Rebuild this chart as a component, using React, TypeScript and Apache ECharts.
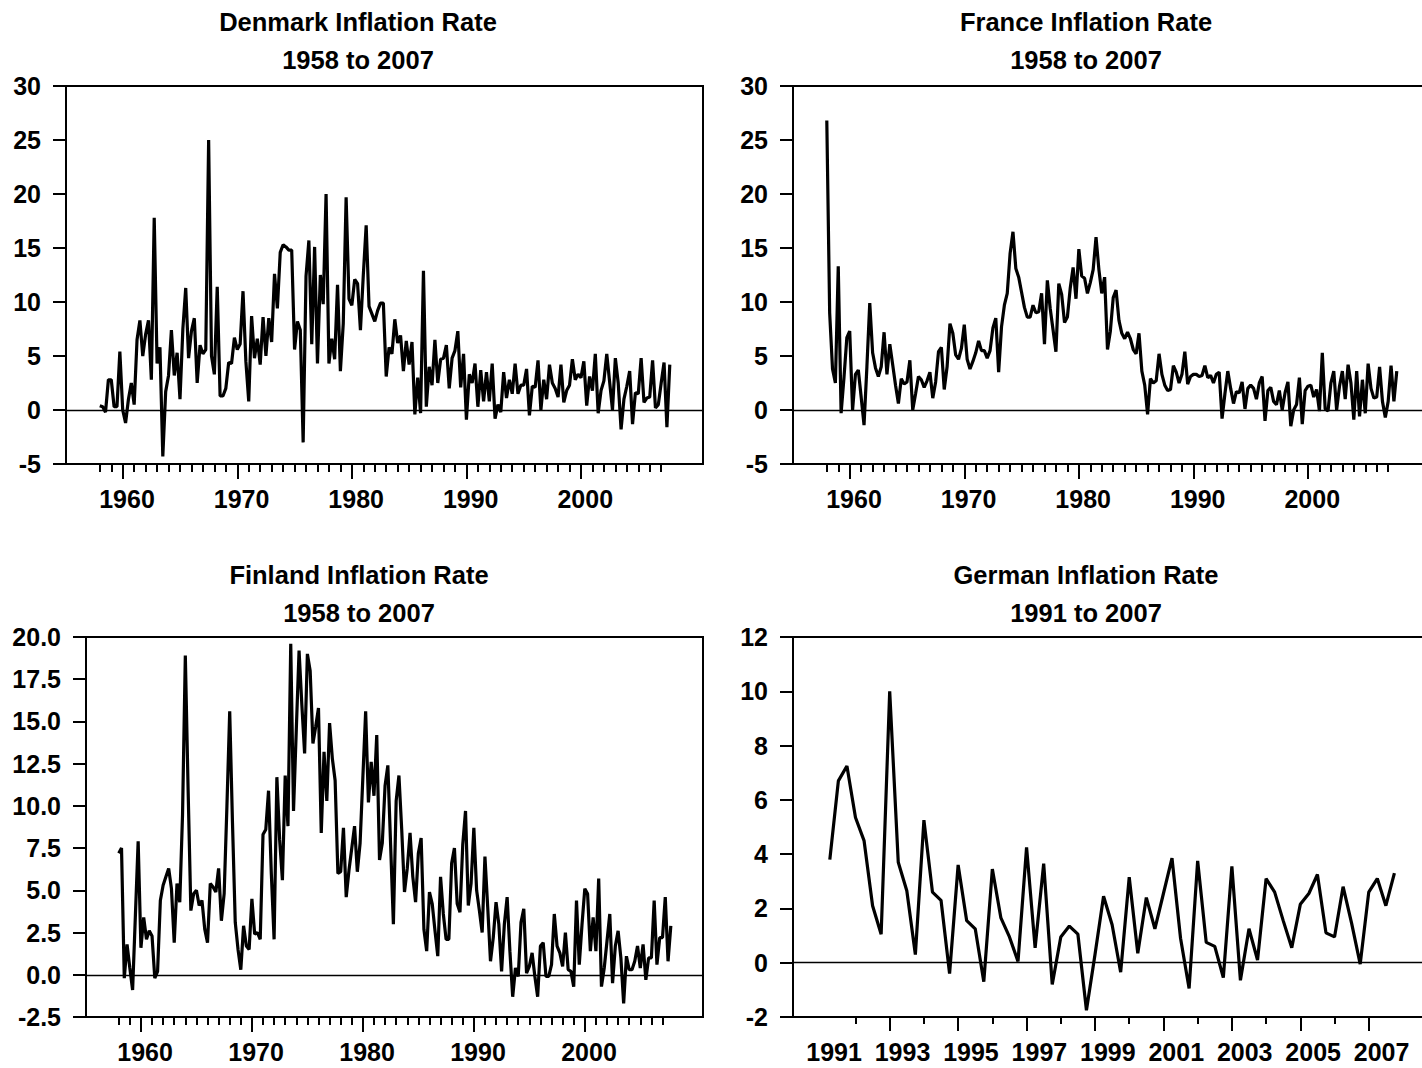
import React, { useEffect, useRef } from "react";
import * as echarts from "echarts";

const FONT = '"Liberation Sans", Arial, Helvetica, sans-serif';

// Quarterly inflation rates (percent), 1958Q1 .. 2007Q4
const denmarkRates = [
  0.4, 0.3, -0.2, 2.8, 2.8, 0.3, 0.3, 5.4, 0, -1.2,
  1, 2.5, 0.5, 6.5, 8.3, 5, 7, 8.3, 2.8, 17.8,
  4.3, 5.8, -4.3, 1.7, 3.2, 7.4, 3.2, 5.3, 1, 7.5,
  11.3, 4.8, 7.3, 8.5, 2.5, 6, 5.2, 5.6, 25, 5,
  3.3, 11.4, 1.3, 1.3, 2, 4.4, 4.3, 6.7, 5.6, 6.1,
  11, 4.5, 0.8, 8.7, 4.8, 6.6, 4.2, 8.6, 5, 8.5,
  6.3, 12.6, 9.4, 14.6, 15.3, 15.1, 14.8, 14.8, 5.6, 8.2,
  7.4, -3, 12.4, 15.7, 6.1, 15.1, 4.3, 12.5, 9.8, 20,
  4.3, 6.6, 4.7, 11.6, 3.6, 8, 19.7, 10.3, 9.7, 12.1,
  11.7, 7.4, 12.5, 17.1, 9.6, 8.9, 8.2, 9.2, 9.9, 9.9,
  3.1, 5.8, 5.2, 8.4, 6.2, 6.9, 3.6, 6.4, 4.2, 6.3,
  -0.4, 3, -0.3, 12.9, 0.3, 4, 2.3, 6.5, 2.5, 4.7,
  4.8, 6, 2, 4.8, 5.5, 7.3, 2.1, 5.2, -0.9, 3.3,
  2.5, 4.3, 0.3, 3.7, 0.8, 3.5, 0.8, 4.3, -0.8, 0.5,
  -0.2, 3.5, 1.1, 2.8, 1.5, 4.3, 1.5, 2.3, 2.3, 3.8,
  -0.5, 2.2, 2.1, 4.6, 0, 2.8, 1, 4.2, 2.5, 2,
  1.2, 4.2, 0.7, 1.8, 2.3, 4.7, 2.8, 3.3, 3, 4.5,
  0.4, 3.1, 1.8, 5.2, -0.3, 1.8, 2.7, 5.2, 2.6, 0,
  4.8, 2.5, -1.8, 1, 2.2, 3.6, -1.3, 1.6, 1.5, 4.8,
  0.7, 1.1, 1.2, 4.6, 0.2, 0.5, 2.5, 4.4, -1.6, 4.2,
];

const franceRates = [
  26.8, 9, 3.8, 2.5, 13.3, -0.3, 3, 6.7, 7.3, 0,
  3.3, 3.7, 1.2, -1.4, 4, 9.9, 5.3, 3.9, 3.1, 4,
  7.2, 3.3, 6.1, 4.2, 2.3, 0.6, 2.9, 2.4, 2.6, 4.6,
  0, 1.5, 3.1, 2.8, 2.1, 2.7, 3.5, 1.1, 2.6, 5.4,
  5.8, 1.9, 4, 8, 7.1, 5.1, 4.7, 5.7, 7.9, 4.7,
  3.8, 4.5, 5.3, 6.4, 5.5, 5.5, 4.8, 5.5, 7.6, 8.5,
  3.5, 7.7, 9.7, 10.8, 14.5, 16.5, 13.1, 12.3, 10.9, 9.5,
  8.6, 8.6, 9.7, 9, 9.1, 10.8, 6.1, 12, 9.4, 7.4,
  5.4, 11.7, 10.7, 8.1, 8.6, 11.3, 13.2, 10.3, 14.9, 12.4,
  12.2, 10.8, 11.8, 13, 16, 13, 10.8, 12.3, 5.6, 7.3,
  10.4, 11.1, 8.3, 7.1, 6.6, 7.2, 6.6, 5.6, 5.2, 7.1,
  3.6, 2.3, -0.4, 2.9, 2.5, 2.7, 5.2, 3.3, 2.3, 1.8,
  1.9, 4.1, 3.5, 2.5, 3.3, 5.4, 2.4, 3.1, 3.3, 3.3,
  3.1, 3.2, 4.1, 3, 3.2, 2.5, 3.3, 3.5, -0.8, 1.5,
  3.6, 2, 0.6, 1.7, 1.6, 2.6, 0.1, 2, 2.3, 2,
  1, 2.5, 3.1, -1, 1.8, 2.1, 0.8, 0.5, 1.8, 0,
  1.6, 2.6, -1.5, 0, 0.5, 3, -1.3, 1.8, 2.2, 2.3,
  1.2, 1.9, -0.1, 5.3, 0.1, -0.1, 2.5, 3.6, 0, 2.2,
  3.6, 1, 4.2, 2.5, -0.9, 3.6, -0.6, 2.8, -0.3, 4.3,
  2, 1.1, 1.2, 4, 0.8, -0.7, 0.8, 4.1, 0.8, 3.6,
];

const finlandRates = [
  7.2, 7.5, -0.2, 1.8, 0.4, -0.9, 3.5, 7.9, 1.6, 3.4,
  2.1, 2.6, 2.3, -0.2, 0.2, 4.4, 5.3, 5.8, 6.3, 5.1,
  1.9, 5.4, 4.3, 9.5, 18.9, 11, 3.8, 4.8, 5, 4.1,
  4.4, 2.7, 1.9, 5.4, 5.2, 4.9, 6.3, 3.2, 4.8, 10,
  15.6, 9, 3.1, 1.5, 0.3, 2.9, 1.7, 1.5, 4.5, 2.4,
  2.5, 2.1, 8.3, 8.6, 10.9, 6, 2.1, 11.7, 8, 5.6,
  11.8, 8.8, 19.6, 9.7, 14.5, 19.2, 16, 13.1, 19, 18,
  13.7, 14.7, 15.8, 8.4, 13.2, 10.3, 14.9, 12.8, 11.5, 6,
  6.1, 8.7, 4.6, 6.2, 7.5, 8.8, 6.1, 7.8, 11.7, 15.6,
  10.2, 12.6, 10.6, 14.2, 6.8, 7.8, 11.2, 12.4, 7.7, 3,
  10.3, 11.8, 8.6, 4.9, 6.3, 8.4, 5.8, 4.3, 7.2, 8.1,
  2.7, 1.4, 4.9, 4.2, 2.6, 1.1, 5.8, 3.6, 2.1, 2.1,
  6.6, 7.5, 4.2, 3.7, 7.7, 9.7, 4.1, 5.4, 8.7, 5,
  3.8, 2.5, 7, 4, 0.8, 2.2, 4.3, 3, 0.2, 3,
  4.6, 1.4, -1.3, 0.4, -0.1, 3.1, 3.9, 0.1, 0.5, 1.3,
  -0.1, -1.3, 1.7, 1.9, -0.1, -0.1, 0.6, 3.6, 1.7, 1.3,
  0.5, 2.5, 0.3, 0.2, -0.7, 4.4, 0.6, 3, 5.1, 4.8,
  1.4, 3.4, 1.4, 5.7, -0.7, 0.4, 2, 3.6, -0.5, 1.7,
  2.6, 1, -1.7, 1.1, 0.3, 0.3, 0.8, 1.7, 0.4, 1.8,
  -0.3, 1, 1, 4.4, 0.6, 2.2, 2.2, 4.6, 0.8, 2.9,
];

// Quarterly inflation rates (percent), 1991Q2 .. 2007Q4
const germanRates = [
  3.8, 6.7, 7.25, 5.35, 4.5, 2.1, 1.05, 10, 3.7, 2.65,
  0.3, 5.25, 2.6, 2.3, -0.4, 3.6, 1.55, 1.25, -0.7, 3.45,
  1.65, 0.95, 0.05, 4.25, 0.55, 3.65, -0.8, 0.95, 1.35, 1.05,
  -1.75, 0.3, 2.45, 1.4, -0.35, 3.15, 0.35, 2.4, 1.25, 2.55,
  3.85, 0.9, -0.95, 3.75, 0.75, 0.6, -0.55, 3.55, -0.65, 1.25,
  0.1, 3.1, 2.6, 1.55, 0.55, 2.15, 2.55, 3.25, 1.1, 0.95,
  2.8, 1.45, -0.05, 2.6, 3.1, 2.1, 3.3,
];

const longSampleStart = 1958; // first quarter of 1958
const germanSampleStart = 1991.25; // second quarter of 1991

// Axis tick and label years
const decadeLabels = [1960, 1970, 1980, 1990, 2000];
const yearTicks = Array.from({ length: 50 }, (_, k) => 1958 + k);
const germanLabels = [1991, 1993, 1995, 1997, 1999, 2001, 2003, 2005, 2007];
const germanLongTicks = [1993, 1995, 1997, 1999, 2001, 2003, 2005, 2007];
const germanShortTicks = [1992, 1994, 1996, 1998, 2000, 2002, 2004, 2006];

type Panel = {
  title: string;
  subtitle: string;
  titleX: number;
  titleTop: number;
  grid: { left: number; top: number; width: number; height: number };
  xMin: number;
  xMax: number;
  labels: number[];
  longTicks: number[];
  shortTicks: number[];
  longLen: number;
  shortLen: number;
  yMin: number;
  yMax: number;
  yStep: number;
  yDecimals: number;
  start: number;
  values: number[];
};

const panels: Panel[] = [
  {
    title: "Denmark Inflation Rate",
    subtitle: "1958 to 2007",
    titleX: 358,
    titleTop: 8,
    grid: { left: 66, top: 86, width: 637, height: 378 },
    xMin: 1955.05,
    xMax: 2010.65,
    labels: decadeLabels,
    longTicks: decadeLabels,
    shortTicks: yearTicks,
    longLen: 15,
    shortLen: 8,
    yMin: -5,
    yMax: 30,
    yStep: 5,
    yDecimals: 0,
    start: longSampleStart,
    values: denmarkRates,
  },
  {
    title: "France Inflation Rate",
    subtitle: "1958 to 2007",
    titleX: 1086,
    titleTop: 8,
    grid: { left: 793, top: 86, width: 637, height: 378 },
    xMin: 1955.05,
    xMax: 2010.65,
    labels: decadeLabels,
    longTicks: decadeLabels,
    shortTicks: yearTicks,
    longLen: 15,
    shortLen: 8,
    yMin: -5,
    yMax: 30,
    yStep: 5,
    yDecimals: 0,
    start: longSampleStart,
    values: franceRates,
  },
  {
    title: "Finland Inflation Rate",
    subtitle: "1958 to 2007",
    titleX: 359,
    titleTop: 561,
    grid: { left: 86, top: 637, width: 617, height: 380 },
    xMin: 1955.05,
    xMax: 2010.65,
    labels: decadeLabels,
    longTicks: decadeLabels,
    shortTicks: yearTicks,
    longLen: 15,
    shortLen: 8,
    yMin: -2.5,
    yMax: 20,
    yStep: 2.5,
    yDecimals: 1,
    start: longSampleStart,
    values: finlandRates,
  },
  {
    title: "German Inflation Rate",
    subtitle: "1991 to 2007",
    titleX: 1086,
    titleTop: 561,
    grid: { left: 793, top: 637, width: 637, height: 380 },
    xMin: 1990.174,
    xMax: 2008.79,
    labels: germanLabels,
    longTicks: germanLongTicks,
    shortTicks: germanShortTicks,
    longLen: 14,
    shortLen: 7,
    yMin: -2,
    yMax: 12,
    yStep: 2,
    yDecimals: 0,
    start: germanSampleStart,
    values: germanRates,
  },
];

const black = "#000";
const tickFont = { fontSize: 25, fontWeight: "bold" as const, color: black, fontFamily: FONT };
const titleFont = { fontSize: 25.5, fontWeight: "bold" as const, color: black, fontFamily: FONT };

function buildOption() {
  const grid: any[] = [];
  const xAxis: any[] = [];
  const yAxis: any[] = [];
  const series: any[] = [];
  const title: any[] = [];

  panels.forEach((p, idx) => {
    grid.push({
      ...p.grid,
      show: true,
      borderColor: black,
      borderWidth: 2,
      backgroundColor: "transparent",
      containLabel: false,
    });

    title.push({
      text: p.title,
      subtext: p.subtitle,
      left: p.titleX,
      top: p.titleTop - 1,
      textAlign: "center",
      padding: 0,
      itemGap: 8,
      textStyle: { ...titleFont, lineHeight: 30 },
      subtextStyle: { ...titleFont, lineHeight: 30 },
    });

    const base = {
      type: "value",
      gridIndex: idx,
      min: p.xMin,
      max: p.xMax,
      position: "bottom",
      splitLine: { show: false },
      axisLine: { show: false, onZero: false },
      axisTick: { show: false },
      axisLabel: { show: false },
    };

    // labelled axis: year labels centred on the middle of each year's quarters
    xAxis.push({
      ...base,
      axisLine: { show: true, onZero: false, lineStyle: { color: black, width: 2 } },
      axisLabel: {
        show: true,
        ...tickFont,
        margin: 22,
        customValues: p.labels.map((y) => y + 0.375),
        formatter: (v: number) => String(Math.floor(v)),
      },
    });
    // long ticks
    xAxis.push({
      ...base,
      axisTick: {
        show: true,
        inside: false,
        customValues: p.longTicks,
        length: p.longLen,
        lineStyle: { color: black, width: 2 },
      },
    });
    // short ticks
    xAxis.push({
      ...base,
      axisTick: {
        show: true,
        inside: false,
        customValues: p.shortTicks,
        length: p.shortLen,
        lineStyle: { color: black, width: 2 },
      },
    });

    yAxis.push({
      type: "value",
      gridIndex: idx,
      min: p.yMin,
      max: p.yMax,
      interval: p.yStep,
      splitLine: { show: false },
      axisLine: { show: true, onZero: false, lineStyle: { color: black, width: 2 } },
      axisTick: { show: true, length: 13, lineStyle: { color: black, width: 2 } },
      axisLabel: {
        ...tickFont,
        margin: 25,
        formatter: (v: number) => v.toFixed(p.yDecimals),
      },
    });

    series.push({
      type: "line",
      name: p.title,
      xAxisIndex: idx * 3,
      yAxisIndex: idx,
      data: p.values.map((v, i) => [p.start + i / 4, v]),
      showSymbol: false,
      symbol: "none",
      silent: true,
      lineStyle: { color: black, width: 3.2 },
      markLine: {
        silent: true,
        symbol: ["none", "none"],
        label: { show: false },
        lineStyle: { color: black, width: 1.3, type: "solid" },
        data: [{ yAxis: 0 }],
      },
    });
  });

  return {
    animation: false,
    backgroundColor: "#fff",
    textStyle: { fontFamily: FONT },
    title,
    grid,
    xAxis,
    yAxis,
    series,
  };
}

export default function App() {
  const ref = useRef<HTMLDivElement>(null);

  useEffect(() => {
    if (!ref.current) return;
    const chart = echarts.init(ref.current, undefined, { renderer: "svg" });
    chart.setOption(buildOption() as any);
    return () => chart.dispose();
  }, []);

  return (
    <div
      style={{
        position: "fixed",
        left: 0,
        top: 0,
        width: 1422,
        height: 1068,
        overflow: "hidden",
        background: "#fff",
      }}
    >
      <div ref={ref} style={{ width: 1440, height: 1068 }} />
    </div>
  );
}
